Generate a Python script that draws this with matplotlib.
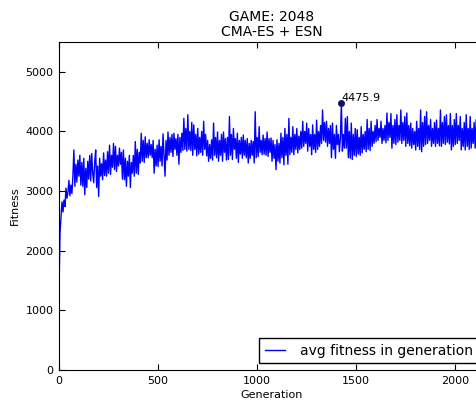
import numpy as np
import matplotlib
matplotlib.use("Agg")
import matplotlib.pyplot as plt

GEN_STEP = 5
avg_fitness = [
    1340, 2300, 2560, 2820, 2650, 2850, 2740, 3050, 2880, 2980,
    3180, 2920, 3100, 2960, 3250, 3690, 3080, 3450, 3150, 3520,
    3250, 3600, 3100, 3480, 3080, 3550, 2940, 3380, 3060, 3500,
    3200, 3600, 3170, 3630, 3300, 3140, 3480, 3690, 3060, 3420,
    2910, 3550, 3250, 3460, 3190, 3640, 3260, 3520, 3250, 3660,
    3300, 3770, 3280, 3600, 3400, 3800, 3360, 3750, 3330, 3600,
    3420, 3720, 3450, 3650, 3200, 3690, 3190, 3550, 3080, 3500,
    3250, 3600, 3060, 3480, 3300, 3600, 3250, 3830, 3300, 3700,
    3280, 3650, 3470, 3970, 3500, 3850, 3480, 3910, 3560, 3800,
    3560, 3860, 3600, 3780, 3560, 3850, 3300, 3700, 3420, 3770,
    3410, 3860, 3500, 3750, 3420, 3960, 3600, 3250, 3850, 3520,
    3990, 3600, 3900, 3650, 3950, 3580, 3970, 3700, 3880, 3600,
    3950, 3450, 3900, 3650, 3970, 3680, 4220, 3700, 4050, 3670,
    4280, 3700, 4000, 3680, 4150, 3600, 4110, 3700, 3950, 3590,
    4050, 3620, 3900, 3650, 4000, 3600, 4170, 3700, 3950, 3590,
    3850, 3500, 3780, 3550, 3860, 3520, 4140, 3600, 3900, 3560,
    3990, 3500, 3850, 3600, 3950, 3500, 3990, 3650, 3880, 3520,
    3900, 3530, 4250, 3600, 3950, 3530, 4050, 3700, 3880, 3550,
    3970, 3480, 3850, 3620, 3900, 3550, 3940, 3600, 3850, 3560,
    3880, 3470, 3800, 3550, 3850, 3600, 3830, 3470, 4330, 3560,
    3900, 3580, 4080, 3650, 3850, 3610, 3940, 3620, 3880, 3600,
    3990, 3580, 3880, 3650, 3890, 3500, 3850, 3550, 3780, 3360,
    3860, 3500, 3800, 3470, 3970, 3560, 3900, 3440, 4050, 3600,
    3950, 3450, 4220, 3610, 3900, 3650, 4080, 3610, 3950, 3700,
    4050, 3640, 3920, 3700, 4000, 3720, 4170, 3750, 4000, 3800,
    4140, 3670, 4050, 3750, 3950, 3610, 4110, 3700, 3950, 3650,
    4190, 3700, 4000, 3750, 4100, 3800, 4360, 3850, 4150, 3820,
    4170, 3750, 4050, 3800, 4100, 3560, 4140, 3700, 3950, 3550,
    4100, 3780, 3950, 3660, 3900, 4475.9, 3670, 3950, 3720, 4220,
    3720, 4250, 3560, 4000, 3550, 4140, 3530, 3950, 3600, 4050,
    3580, 4030, 3620, 3900, 3600, 4080, 3640, 3950, 3700, 4000,
    3660, 4200, 3700, 4050, 3680, 4170, 3750, 4000, 3800, 4100,
    3830, 4200, 3850, 4050, 3900, 4170, 3800, 4050, 3850, 4100,
    3810, 4310, 3850, 4150, 3900, 4300, 3720, 4100, 3800, 4200,
    3780, 4280, 3820, 4100, 3850, 4360, 3800, 4150, 3850, 4250,
    3750, 4310, 3800, 4100, 3760, 4140, 3720, 4050, 3780, 4000,
    3690, 4170, 3750, 4050, 3700, 4360, 3660, 4150, 3750, 4250,
    3780, 4330, 3800, 4100, 3850, 4200, 3750, 4050, 3800, 4150,
    3750, 4190, 3800, 4050, 3760, 4360, 3750, 4150, 3800, 4250,
    3780, 4280, 3820, 4100, 3790, 4300, 3690, 4100, 3750, 4200,
    3780, 4300, 3800, 4100, 3850, 4250, 3690, 4050, 3750, 4150,
    3690, 4280, 3750, 4050, 3700, 4250, 3720, 4050, 3800, 4150,
    3720, 4200, 3780, 4050, 3750, 4150, 3750, 4000, 3800, 4100,
]
TITLE = "GAME: 2048\nCMA-ES + ESN"
LEGEND_LABEL = "avg fitness in generation"

generations = np.arange(len(avg_fitness)) * GEN_STEP
fitness = np.array(avg_fitness)
best_idx = int(np.argmax(fitness))

fig = plt.figure(figsize=(4.76, 4.01), dpi=100)
ax = fig.add_axes([0.124, 0.0773, 0.895, 0.818])

ax.plot(generations, fitness, color="#0000ff", lw=1.0, label=LEGEND_LABEL)
ax.plot(generations[best_idx], fitness[best_idx], "o", color="#101060", ms=4)
ax.text(generations[best_idx], fitness[best_idx], "%.1f" % fitness[best_idx],
        fontsize=8, ha="left", va="bottom")

ax.set_xlim(0, 2150)
ax.set_ylim(0, 5500)
ax.set_xticks([0, 500, 1000, 1500, 2000])
ax.set_yticks([0, 1000, 2000, 3000, 4000, 5000])
ax.tick_params(direction="in", top=True, right=True, length=4, labelsize=8, pad=4)

ax.set_title(TITLE, fontsize=10, pad=4, linespacing=1.1)
ax.set_xlabel("Generation", fontsize=8, labelpad=3)
ax.set_ylabel("Fitness", fontsize=8, labelpad=4)

leg = ax.legend(loc="lower right", fontsize=10, fancybox=False, framealpha=1,
                edgecolor="black", handlelength=1.45, handletextpad=1.05,
                borderpad=0.4, borderaxespad=0.5)
leg.get_frame().set_linewidth(1.0)

fig.savefig("out.png", dpi=100)
